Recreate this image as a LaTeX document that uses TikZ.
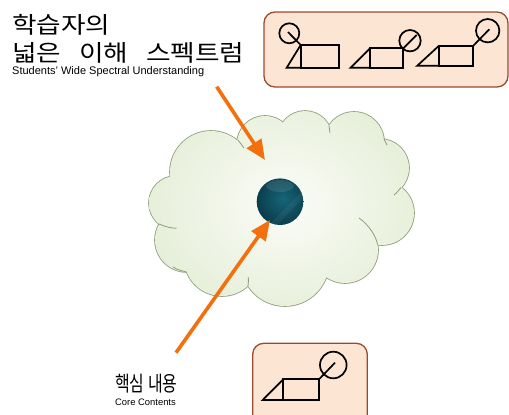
\documentclass[tikz,border=0pt]{standalone}
\usepackage{fontspec}
\newfontfamily\krfont{Noto Sans CJK KR}[FakeStretch=1.16, WordSpace=3.0]
\newfontfamily\krnarrow{Noto Sans CJK KR}
\newfontfamily\latfont{Liberation Sans}
\usetikzlibrary{arrows.meta}

\definecolor{boxfill}{HTML}{FCE6D3}
\definecolor{boxline}{HTML}{9C4A2C}
\definecolor{arrowor}{HTML}{F4700F}
\definecolor{cloudedge}{HTML}{8E9C78}
\definecolor{cloudin}{HTML}{FBFCF7}
\definecolor{cloudout}{HTML}{D4E4C0}
\definecolor{corelight}{HTML}{176478}
\definecolor{coredark}{HTML}{06323F}

\tikzset{
  panel/.style={draw=boxline, fill=boxfill, line width=1.3pt, rounded corners=11pt},
  glyph/.style={draw=black, line width=1.7pt, line join=miter},
  pointer/.style={draw=arrowor, line width=3.6pt, -{Triangle[length=20pt,width=17pt]}},
  headline/.style={font=\krfont\fontsize{23}{28}\selectfont, anchor=base west, inner sep=0pt},
  subline/.style={font=\latfont\fontsize{11}{13}\selectfont, anchor=base west, inner sep=0pt},
  inner lobe/.style={draw=cloudedge, line width=0.8pt},
}

% outline of the cloud: overlapping lobes plus a filler ellipse
\def\cloudlobes{(211,172) circle (41) (265,144) circle (28) (305,138) circle (27)
  (354,142) circle (30) (380,168) circle (29) (382,213) circle (32)
  (345,250) circle (33) (285,262) circle (44) (222,258) circle (38)
  (187,240) circle (32) (176,203) circle (27) (282,205) ellipse (100 and 65)}

\begin{document}
\begin{tikzpicture}[x=1pt,y=-1pt]
\clip (0,0) rectangle (509,415);
\fill[white] (0,0) rectangle (509,415);

% cloud: stroke the lobes, then cover the inner half of the stroke with the shading
\draw[cloudedge, line width=1.6pt] \cloudlobes;
\begin{scope}
  \clip \cloudlobes;
  \shade[inner color=cloudin, outer color=cloudout] (285,205) ellipse (260 and 210);
\end{scope}
% edges of lobes showing inside the cloud
\draw[inner lobe] (377.6,244.6) .. controls (376,236) and (369,225) .. (359,218);
\draw[inner lobe] (238,140) .. controls (240,143) and (242,145) .. (244,148);
\draw[inner lobe] (329,125.5) -- (330,133);
\draw[inner lobe] (384,139) -- (387,145);
\draw[inner lobe] (401,187.6) .. controls (399,190) and (397,192.5) .. (394,195);
\draw[inner lobe] (159,224) .. controls (165,226.5) and (170,228) .. (176.5,228.3);
\draw[inner lobe] (173,267) .. controls (177,269.5) and (182,271) .. (186.5,272);
\draw[inner lobe] (248,286) .. controls (248.5,283) and (248.5,280) .. (248.3,277);

% core sphere
\begin{scope}
  \clip (280,201.7) circle (23.3);
  \shade[inner color=corelight, outer color=coredark] (283,199) circle (34);
  \fill[white, opacity=0.10] (280,186) ellipse (14 and 6);
  \fill[white, opacity=0.05] (268,226) -- (303,190) -- (305,196) -- (274,228) -- cycle;
\end{scope}
\node[circle, minimum size=46.6pt, inner sep=0pt] (core) at (280,201.7) {};

% upper panel with three figures
\draw[panel] (264,12) rectangle (508,87);
\draw[glyph] (289.3,33.3) circle (10);
\draw[glyph] (288,32) -- (300.7,45);
\draw[glyph] (300.7,45) rectangle (339,67.7);
\draw[glyph] (300.7,45) -- (286.7,67.7) -- (300.7,67.7);

\draw[glyph] (410,40.7) circle (10.7);
\draw[glyph] (403.3,48.3) -- (416.7,35);
\draw[glyph] (370,48.3) rectangle (403.3,67.7);
\draw[glyph] (370,48.3) -- (350.7,67.7) -- (370,67.7);

\draw[glyph] (487.7,30.7) circle (11.7);
\draw[glyph] (473.3,45.7) -- (489.3,29.3);
\draw[glyph] (439,45.7) rectangle (473.3,65.7);
\draw[glyph] (439,45.7) -- (417.3,65.7) -- (439,65.7);

% lower panel with one figure
\draw[panel] (252.7,343.3) rectangle (367.3,430);
\draw[glyph] (333.3,365) circle (13.3);
\draw[glyph] (319,379.3) -- (335,362.7);
\draw[glyph] (283.3,379.3) rectangle (319,400);
\draw[glyph] (283.3,379.3) -- (262.7,400) -- (283.3,400);

% labels
\node[headline] (wideA) at (12,33.3) {학습자의};
\node[headline] (wideB) at (12,61) {넓은 이해 스펙트럼};
\node[subline] (wideEn) at (12,74.5) {Students’ Wide Spectral Understanding};
\node[headline, font=\krnarrow\fontsize{21}{24}\selectfont, xscale=0.76] (coreKr) at (115,391.5) {핵심 내용};
\node[subline, font=\latfont\fontsize{9.4}{11}\selectfont] (coreEn) at (115,405.5) {Core Contents};

% pointers
\coordinate (fromWide) at (216.7,86.7);
\coordinate (toCloud) at (265,160);
\coordinate (fromCore) at (176,352.7);
\coordinate (toCore) at (270,220);
\draw[pointer] (fromWide) -- (toCloud);
\draw[pointer] (fromCore) -- (toCore);
\end{tikzpicture}
\end{document}
